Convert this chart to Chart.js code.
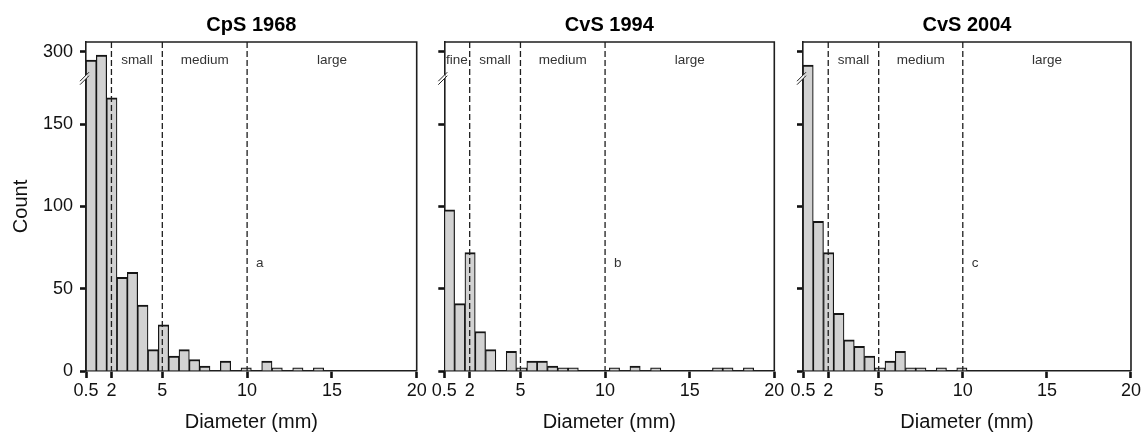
<!DOCTYPE html>
<html>
<head>
<meta charset="utf-8">
<script src="https://cdn.jsdelivr.net/npm/chart.js@4/dist/chart.umd.min.js"></script>
<style>
  html, body { margin: 0; padding: 0; background: #fff; }
  #wrap { position: relative; width: 1143px; height: 434px; }
  #wrap canvas { position: absolute; left: 0; top: 0; }
</style>
</head>
<body>
<div id="wrap">
  <canvas id="c1968" width="1143" height="434"></canvas>
  <canvas id="c1994" width="1143" height="434"></canvas>
  <canvas id="c2004" width="1143" height="434"></canvas>
</div>
<script>
const titles = ['CpS 1968', 'CvS 1994', 'CvS 2004'];
const letters = ['a', 'b', 'c'];
const xTicks = [0.5, 2, 5, 10, 15, 20];
const yTicks = [0, 50, 100, 150, 300];
const classBounds = [2, 5, 10];
const classNames = ['fine', 'small', 'medium', 'large'];

// histogram bins: 32 equal bins between 0.5 and 20 mm
const binFrom = 0.5, binTo = 20, binCount = 32;

const counts1968 = [295, 298, 166, 57, 60, 40, 13, 28, 9, 13, 7, 3, 0, 6, 0, 2,
                    0, 6, 2, 0, 2, 0, 2, 0, 0, 0, 0, 0, 0, 0, 0, 0];
const counts1994 = [98, 41, 72, 24, 13, 0, 12, 2, 6, 6, 3, 2, 2, 0, 0, 0,
                    2, 0, 3, 0, 2, 0, 0, 0, 0, 0, 2, 2, 0, 2, 0, 0];
const counts2004 = [292, 91, 72, 35, 19, 15, 9, 2, 6, 12, 2, 2, 0, 2, 0, 2,
                    0, 0, 0, 0, 0, 0, 0, 0, 0, 0, 0, 0, 0, 0, 0, 0];

// y axis is broken between these two counts
const breakLow = 178, breakHigh = 284;

Chart.defaults.font.family = '"Liberation Sans", Arial, Helvetica, sans-serif';

const LinearScale = Chart.LinearScale || Chart.registry.getScale('linear');
class BrokenScale extends LinearScale {
  getPixelForValue(v) {
    return super.getPixelForValue(v >= breakHigh ? v - (breakHigh - breakLow) : v);
  }
}
BrokenScale.id = 'broken';
BrokenScale.defaults = LinearScale.defaults;
Chart.register(BrokenScale);

const binStep = (binTo - binFrom) / binCount;
const plotX = [[86, 416.7], [444.3, 774.3], [803, 1132.3]];

const decor = {
  id: 'decor',
  afterDatasetsDraw(chart, args, opts) {
    const {ctx, chartArea: a, scales: {x}} = chart;
    ctx.save();
    ctx.strokeStyle = '#1e1e1e';
    ctx.lineWidth = 1.3;
    ctx.setLineDash([6, 3]);
    classBounds.forEach(b => {
      const px = x.getPixelForValue(b);
      ctx.beginPath();
      ctx.moveTo(px, a.top);
      ctx.lineTo(px, a.bottom);
      ctx.stroke();
    });
    ctx.setLineDash([]);
    ctx.lineWidth = 1.6;
    ctx.beginPath();
    ctx.moveTo(a.left, a.top);
    ctx.lineTo(a.right, a.top);
    ctx.lineTo(a.right, a.bottom);
    ctx.stroke();

    ctx.fillStyle = '#333';
    ctx.font = '13.5px "Liberation Sans", Arial, sans-serif';
    ctx.textAlign = 'center';
    ctx.textBaseline = 'middle';
    const edges = [binFrom, ...classBounds, binTo];
    classNames.forEach((name, j) => {
      if (j === 0 && !opts.fine) return;
      const cx = (x.getPixelForValue(edges[j]) + x.getPixelForValue(edges[j + 1])) / 2;
      ctx.fillText(name, cx, a.top + 18);
    });
    ctx.textAlign = 'left';
    ctx.fillText(opts.letter, x.getPixelForValue(10) + 9, a.top + 221);
    ctx.restore();
  },
  afterDraw(chart) {
    const {ctx, chartArea: a, scales: {y}} = chart;
    const yb = y.getPixelForValue(breakLow);
    const ax = a.left;
    ctx.save();
    ctx.fillStyle = '#fff';
    ctx.beginPath();
    ctx.moveTo(ax - 6, yb + 3);
    ctx.lineTo(ax + 1, yb - 4);
    ctx.lineTo(ax + 1, yb - 0.5);
    ctx.lineTo(ax - 6, yb + 6.5);
    ctx.closePath();
    ctx.fill();
    ctx.strokeStyle = '#222';
    ctx.lineWidth = 1;
    [0, 3.5].forEach(d => {
      ctx.beginPath();
      ctx.moveTo(ax - 6, yb + 3 + d);
      ctx.lineTo(ax + 3, yb - 6 + d);
      ctx.stroke();
    });
    ctx.restore();
  }
};

function makePanel(i, id, counts) {
  const [left, right] = plotX[i];
  const yWidth = i === 0 ? 86 : 6;
  new Chart(document.getElementById(id), {
    type: 'bar',
    data: {
      datasets: [{
        data: counts.map((c, k) => ({x: binFrom + (k + 0.5) * binStep, y: c})),
        backgroundColor: '#d2d2d2',
        borderColor: '#151515',
        borderWidth: {top: 2, left: 1.2, right: 1.2, bottom: 0},
        borderSkipped: false,
        barPercentage: 1,
        categoryPercentage: 1
      }]
    },
    plugins: [decor],
    options: {
      responsive: false,
      animation: false,
      events: [],
      layout: {padding: {left: left - yWidth, right: 1143 - right, top: 0, bottom: 0}},
      plugins: {
        legend: {display: false},
        tooltip: {enabled: false},
        title: {
          display: true, text: titles[i], fullSize: false, color: '#000',
          font: {size: 20, weight: 'bold'}, padding: {top: 13, bottom: 5}
        },
        decor: {fine: i === 1, letter: letters[i]}
      },
      scales: {
        x: {
          type: 'linear', min: binFrom, max: binTo, offset: false,
          grid: {offset: false, drawOnChartArea: false, drawTicks: true, tickLength: 7, tickWidth: 2.6, tickColor: '#111'},
          border: {display: true, color: '#1e1e1e', width: 1.6},
          ticks: {autoSkip: false, maxRotation: 0, padding: 2, color: '#111', font: {size: 18}, callback: v => String(v)},
          afterBuildTicks: s => { s.ticks = xTicks.map(v => ({value: v})); },
          afterFit: s => { s.height = 63; },
          title: {display: true, text: 'Diameter (mm)', color: '#111', font: {size: 20}, padding: {top: 0, bottom: 0}}
        },
        y: {
          type: 'broken', min: 0, max: 200, bounds: 'data',
          grid: {drawOnChartArea: false, drawTicks: true, tickLength: 6, tickWidth: 2.6, tickColor: '#111'},
          border: {display: true, color: '#1e1e1e', width: 1.6},
          ticks: {display: i === 0, autoSkip: false, padding: 7, color: '#111', font: {size: 18}, callback: v => String(v)},
          afterBuildTicks: s => { s.ticks = yTicks.map(v => ({value: v})); },
          afterFit: s => { s.width = yWidth; },
          title: {display: i === 0, text: 'Count', color: '#111', font: {size: 20}, padding: {top: 9, bottom: 0}}
        }
      }
    }
  });
}

makePanel(0, 'c1968', counts1968);
makePanel(1, 'c1994', counts1994);
makePanel(2, 'c2004', counts2004);
</script>
</body>
</html>
